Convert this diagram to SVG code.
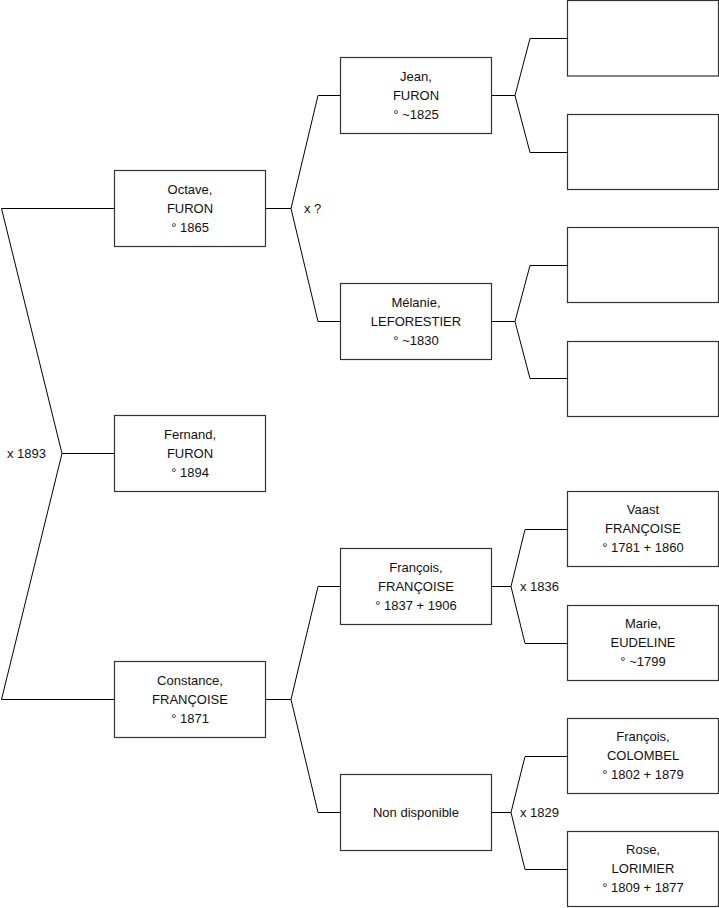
<svg xmlns="http://www.w3.org/2000/svg" width="719" height="908" viewBox="0 0 719 908">
<style>
.box{fill:#fff;stroke:#333;stroke-width:1.2}
.ln{fill:none;stroke:#000;stroke-width:1}
text{font-family:"Liberation Sans",Arial,sans-serif;font-size:13px;fill:#111;dominant-baseline:central}
.c{text-anchor:middle}
</style>
<rect width="719" height="908" fill="#fff"/>
<g id="connectors">
<path class="ln" d="M114,208.5 H1.5 L62,453.5 L1.5,699.5 H114 M62,453.5 H114"/>
<path class="ln" d="M265,208.5 H291 L318,95.5 H340 M291,208.5 L318,321.5 H340"/>
<path class="ln" d="M265,699.5 H291 L318,586.5 H340 M291,699.5 L318,812.5 H340"/>
<path class="ln" d="M492,95.5 H515 L530,38.5 H567 M515,95.5 L530,152.5 H567"/>
<path class="ln" d="M492,321.5 H515 L530,265.5 H567 M515,321.5 L530,378.5 H567"/>
<path class="ln" d="M492,586.5 H511 L525,529.5 H567 M511,586.5 L525,643.5 H567"/>
<path class="ln" d="M492,812.5 H511 L525,756.5 H567 M511,812.5 L525,869.5 H567"/>
<text x="7" y="453">x 1893</text>
<text x="304" y="208">x ?</text>
<text x="520" y="586">x 1836</text>
<text x="520" y="812">x 1829</text>
</g>
<g id="octave"><rect class="box" x="114.5" y="170.5" width="151" height="76"/>
<text class="c" x="190" y="189">Octave,</text><text class="c" x="190" y="208">FURON</text><text class="c" x="190" y="227">° 1865</text></g>
<g id="fernand"><rect class="box" x="114.5" y="415.5" width="151" height="76"/>
<text class="c" x="190" y="434">Fernand,</text><text class="c" x="190" y="453">FURON</text><text class="c" x="190" y="472">° 1894</text></g>
<g id="constance"><rect class="box" x="114.5" y="661.5" width="151" height="76"/>
<text class="c" x="190" y="680">Constance,</text><text class="c" x="190" y="699">FRANÇOISE</text><text class="c" x="190" y="718">° 1871</text></g>
<g id="jean"><rect class="box" x="340.5" y="57.5" width="151" height="76"/>
<text class="c" x="416" y="76">Jean,</text><text class="c" x="416" y="95">FURON</text><text class="c" x="416" y="114">° ~1825</text></g>
<g id="melanie"><rect class="box" x="340.5" y="283.5" width="151" height="76"/>
<text class="c" x="416" y="302">Mélanie,</text><text class="c" x="416" y="321">LEFORESTIER</text><text class="c" x="416" y="340">° ~1830</text></g>
<g id="francois"><rect class="box" x="340.5" y="548.5" width="151" height="76"/>
<text class="c" x="416" y="567">François,</text><text class="c" x="416" y="586">FRANÇOISE</text><text class="c" x="416" y="605">° 1837 + 1906</text></g>
<g id="nondispo"><rect class="box" x="340.5" y="774.5" width="151" height="76"/>
<text class="c" x="416" y="812">Non disponible</text></g>
<g id="empty1"><rect class="box" x="567.5" y="0.5" width="151" height="75.5"/></g>
<g id="empty2"><rect class="box" x="567.5" y="114.5" width="151" height="75"/></g>
<g id="empty3"><rect class="box" x="567.5" y="227.5" width="151" height="75"/></g>
<g id="empty4"><rect class="box" x="567.5" y="341.5" width="151" height="75"/></g>
<g id="vaast"><rect class="box" x="567.5" y="491.5" width="151" height="75"/>
<text class="c" x="643" y="509">Vaast</text><text class="c" x="643" y="528">FRANÇOISE</text><text class="c" x="643" y="547">° 1781 + 1860</text></g>
<g id="marie"><rect class="box" x="567.5" y="605.5" width="151" height="75"/>
<text class="c" x="643" y="623">Marie,</text><text class="c" x="643" y="642">EUDELINE</text><text class="c" x="643" y="661">° ~1799</text></g>
<g id="colombel"><rect class="box" x="567.5" y="718.5" width="151" height="75"/>
<text class="c" x="643" y="736">François,</text><text class="c" x="643" y="755">COLOMBEL</text><text class="c" x="643" y="774">° 1802 + 1879</text></g>
<g id="rose"><rect class="box" x="567.5" y="831.5" width="151" height="75"/>
<text class="c" x="643" y="849">Rose,</text><text class="c" x="643" y="868">LORIMIER</text><text class="c" x="643" y="887">° 1809 + 1877</text></g>
</svg>
